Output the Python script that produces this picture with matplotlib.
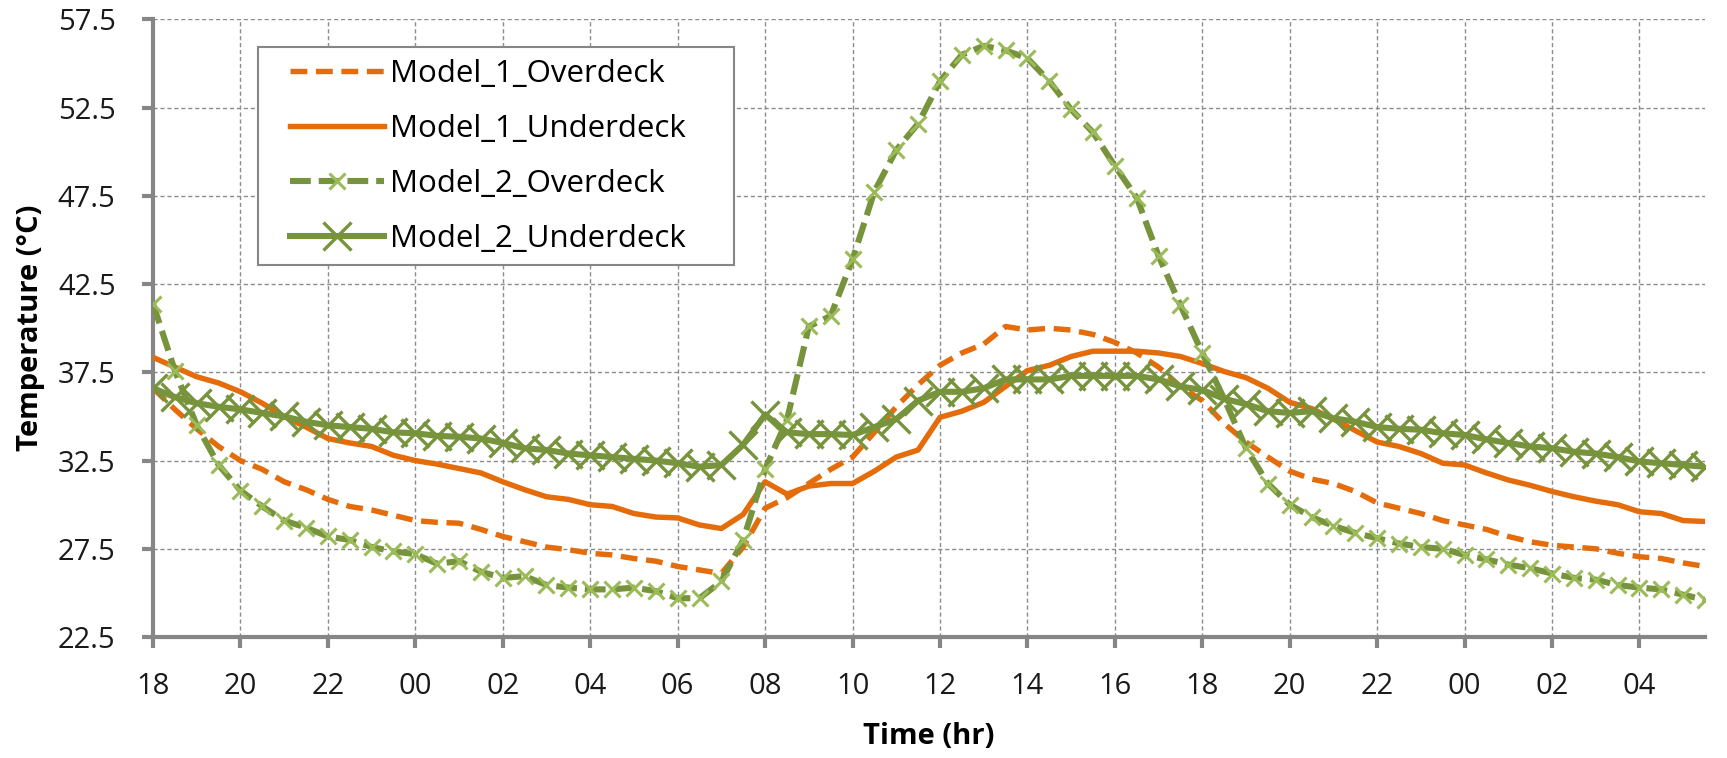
import numpy as np
import matplotlib.pyplot as plt
from matplotlib.patches import Rectangle

# half-hour steps from 18:00 to 05:30 (day after next)
hours = ['18', '20', '22', '00', '02', '04', '06', '08', '10', '12', '14', '16',
         '18', '20', '22', '00', '02', '04']

m1_over = [36.6, 35.4, 34.3, 33.3, 32.5, 32.0, 31.3, 30.85, 30.3, 29.9, 29.7, 29.4,
           29.1, 29.0, 28.95, 28.6, 28.2, 27.9, 27.6, 27.45, 27.25, 27.15, 26.95, 26.8,
           26.5, 26.3, 26.1, 27.6, 29.8, 30.4, 31.2, 32.0, 32.7, 34.1, 35.55, 36.8,
           37.9, 38.6, 39.1, 40.1, 39.9, 40.0, 39.9, 39.65, 39.2, 38.6, 37.8, 36.7,
           35.9, 34.6, 33.55, 32.7, 31.9, 31.45, 31.2, 30.75, 30.1, 29.8, 29.5, 29.1,
           28.85, 28.6, 28.2, 27.9, 27.7, 27.6, 27.5, 27.25, 27.05, 26.95, 26.7, 26.5]

m1_under = [38.35, 37.8, 37.25, 36.9, 36.4, 35.75, 35.0, 34.4, 33.75, 33.5, 33.3, 32.8,
            32.5, 32.3, 32.05, 31.8, 31.3, 30.85, 30.45, 30.3, 30.0, 29.9, 29.5, 29.3,
            29.25, 28.85, 28.65, 29.45, 31.3, 30.6, 31.05, 31.2, 31.2, 31.9, 32.7, 33.1,
            34.95, 35.3, 35.8, 36.7, 37.6, 37.9, 38.4, 38.7, 38.7, 38.7, 38.6, 38.4,
            38.0, 37.55, 37.2, 36.6, 35.8, 35.45, 34.85, 34.2, 33.55, 33.3, 32.9, 32.35,
            32.25, 31.8, 31.4, 31.1, 30.75, 30.45, 30.2, 30.0, 29.6, 29.5, 29.1, 29.05]

m2_over = [41.4, 37.6, 34.5, 32.25, 30.8, 29.9, 29.1, 28.7, 28.2, 28.0, 27.6, 27.35,
           27.2, 26.65, 26.8, 26.2, 25.85, 25.95, 25.45, 25.3, 25.2, 25.2, 25.3, 25.1,
           24.7, 24.7, 25.65, 28.0, 32.0, 34.8, 40.1, 40.7, 43.9, 47.75, 50.1, 51.6,
           54.0, 55.5, 56.0, 55.75, 55.3, 54.0, 52.4, 51.1, 49.2, 47.4, 44.1, 41.3,
           38.6, 36.0, 33.2, 31.2, 30.0, 29.3, 28.8, 28.4, 28.1, 27.8, 27.6, 27.5,
           27.15, 26.9, 26.6, 26.4, 26.1, 25.85, 25.75, 25.45, 25.3, 25.2, 24.9, 24.6]

m2_under = [36.6, 36.1, 35.75, 35.55, 35.4, 35.2, 35.0, 34.7, 34.5, 34.4, 34.3, 34.1,
            34.05, 33.9, 33.85, 33.75, 33.5, 33.2, 33.1, 32.9, 32.8, 32.7, 32.6, 32.5,
            32.35, 32.15, 32.25, 33.4, 35.1, 34.1, 34.0, 34.0, 33.95, 34.4, 34.85, 35.9,
            36.4, 36.4, 36.6, 37.1, 37.1, 37.1, 37.3, 37.3, 37.3, 37.3, 37.1, 36.7,
            36.5, 36.0, 35.7, 35.3, 35.2, 35.3, 34.9, 34.7, 34.4, 34.3, 34.25, 34.05,
            33.95, 33.7, 33.5, 33.3, 33.2, 33.0, 32.9, 32.7, 32.45, 32.35, 32.25, 32.15]

orange = '#E46C0A'
green = '#77933C'
light_green = '#9BBB59'

plt.rcParams['font.family'] = ['Open Sans', 'DejaVu Sans']

fig = plt.figure(figsize=(17.27, 7.58), dpi=100)
ax = fig.add_axes([0.0886, 0.1596, 0.8987, 0.8147])

x = np.arange(len(m1_over))

ax.plot(x, m1_over, color=orange, lw=3.9, dashes=(3.1, 1.6), label='Model_1_Overdeck', zorder=3)
ax.plot(x, m1_under, color=orange, lw=3.9, label='Model_1_Underdeck', zorder=3)
ax.plot(x, m2_over, color=green, lw=4.4, dashes=(3.4, 1.3), marker='x', ms=11.5,
        mec=light_green, mew=2.2, label='Model_2_Overdeck', zorder=4)
ax.plot(x, m2_under, color=green, lw=4.4, marker='x', ms=20,
        mec=green, mew=2.4, label='Model_2_Underdeck', zorder=4)

ax.set_xlim(0, len(x) - 1)
ax.set_ylim(22.5, 57.5)
ax.set_xticks(np.arange(0, len(x), 4))
ax.set_xticklabels(hours)
ax.set_yticks(np.arange(22.5, 57.6, 5))
ax.set_yticklabels([f'{v:.1f}' for v in np.arange(22.5, 57.6, 5)])

ax.grid(True, color='#8c8c8c', ls=(0, (3, 2)), lw=1)
ax.set_axisbelow(True)
for s in ['top', 'right']:
    ax.spines[s].set_visible(False)
for s in ['left', 'bottom']:
    ax.spines[s].set_color('#868686')
    ax.spines[s].set_linewidth(3)
ax.tick_params(axis='both', labelsize=21, color='#868686', width=3, length=8,
               labelcolor='#1a1a1a')
ax.tick_params(axis='y', pad=19)
ax.tick_params(axis='x', pad=17)

ax.set_ylabel('Temperature (°C)', fontsize=21, fontweight='bold', labelpad=9)
ax.set_xlabel('Time (hr)', fontsize=21, fontweight='bold', labelpad=15)

# legend frame drawn separately so the padding can match
ax.add_patch(Rectangle((0.0677, 0.6024), 0.3067, 0.3531, transform=ax.transAxes,
                       facecolor='white', edgecolor='#868686', lw=1.5, zorder=5))
leg = ax.legend(loc='upper left', bbox_to_anchor=(0.0883, 0.936), fontsize=22.5,
                handlelength=3.0, handletextpad=0.2, labelspacing=0.8,
                frameon=False, borderpad=0, borderaxespad=0)
leg.set_zorder(6)

fig.savefig('out.png', dpi=100)
